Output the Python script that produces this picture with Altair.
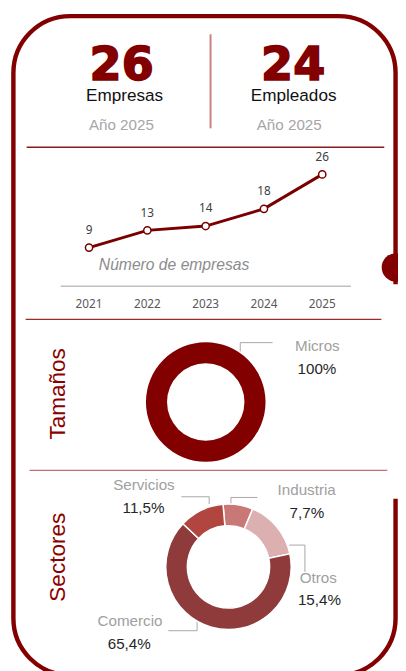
import math
import altair as alt
import pandas as pd

# ---------------- data ----------------
years = [2021, 2022, 2023, 2024, 2025]
empresas = [9, 13, 14, 18, 26]

kpi_values = ["26", "24"]
kpi_labels = ["Empresas", "Empleados"]
kpi_sub = ["Año 2025", "Año 2025"]

tam_cats = ["Micros"]
tam_counts = [26]

sec_cats = ["Industria", "Otros", "Comercio", "Servicios"]
sec_counts = [2, 4, 17, 3]

section_titles = ["Tamaños", "Sectores"]
line_caption = "Número de empresas"

# ---------------- style / layout ----------------
DARK = "#820000"
NARROW = "Liberation Sans Narrow, Liberation Sans, Arial"
SANS = "Liberation Sans, Arial"
W, H = 398, 663


def pct(c, total):
    v = c / total * 100
    if abs(v - round(v)) < 1e-9:
        return f"{int(round(v))}%"
    return f"{v:.1f}".replace(".", ",") + "%"


one = pd.DataFrame({"a": [0]})

# frame
frame = alt.Chart(one).mark_rect(
    fill=None, stroke=DARK, strokeWidth=4.5, cornerRadius=58
).encode(x=alt.value(5.5), x2=alt.value(395.5), y=alt.value(1.5), y2=alt.value(674))

cover = alt.Chart(one).mark_rect(fill="white").encode(
    x=alt.value(386), x2=alt.value(398), y=alt.value(275), y2=alt.value(494)
)

knob = alt.Chart(one).mark_circle(color=DARK, opacity=1, size=855).encode(
    x=alt.value(396), y=alt.value(258)
)

# separators & leader lines
rules_df = pd.DataFrame(
    [
        # x, x2, y, y2, color, width
        (19, 384, 135.3, 135.3, "#8b1a1a", 1.3),
        (18, 381, 311, 311, "#9b2a2a", 1.2),
        (22, 387, 465, 465, "#c27070", 1.2),
        (206.7, 206.7, 20, 116, "#c98080", 2),
        (237, 237, 343.7, 334.7, "#a6a6a6", 1),
        (237, 270, 334.7, 334.7, "#a6a6a6", 1),
        (205.3, 205.3, 492, 499.5, "#a6a6a6", 1),
        (177, 205.3, 492, 492, "#a6a6a6", 1),
        (227.5, 227.5, 492.7, 499, "#a6a6a6", 1),
        (227.5, 254.5, 492.7, 492.7, "#a6a6a6", 1),
        (287, 303, 541.3, 541.3, "#a6a6a6", 1),
        (303, 303, 541.3, 568.7, "#a6a6a6", 1),
        (193, 193, 618.7, 628.7, "#a6a6a6", 1),
        (163.7, 193, 628.7, 628.7, "#a6a6a6", 1),
    ],
    columns=["x", "x2", "y", "y2", "c", "w"],
)
rules = alt.Chart(rules_df).mark_rule().encode(
    x=alt.X("x:Q", scale=None, axis=None),
    x2="x2:Q",
    y=alt.Y("y:Q", scale=None, axis=None),
    y2="y2:Q",
    color=alt.Color("c:N", scale=None),
    strokeWidth=alt.StrokeWidth("w:Q", scale=None),
)

# ---------------- line chart ----------------
line_df = pd.DataFrame({"year": years, "n": empresas})
line_df["year_lbl"] = line_df["year"].astype(str)
xs = alt.X("year:Q", scale=alt.Scale(domain=[2021, 2025], range=[82.7, 320.7], nice=False, zero=False), axis=None)
ys = alt.Y("n:Q", scale=alt.Scale(domain=[0, 26], range=[277.2, 163.0], nice=False), axis=None)
lbase = alt.Chart(line_df)
axis_rule = alt.Chart(pd.DataFrame({"n": [0]})).mark_rule(color="#c0c0c0", strokeWidth=1.5).encode(
    x=alt.value(53.7), x2=alt.value(350), y=ys
)
lline = lbase.mark_line(color="#7a0000", strokeWidth=3).encode(x=xs, y=ys)
lpts = lbase.mark_point(
    filled=True, fill="white", stroke="#7a0000", strokeWidth=1.5, size=55, opacity=1
).encode(x=xs, y=ys)
lvals = lbase.mark_text(font="Noto Sans", fontSize=12, color="#404040", dy=-18, baseline="middle").encode(
    x=xs, y=ys, text="n:Q"
)
lyears = lbase.mark_text(font="Noto Sans", fontSize=12, color="#595959", baseline="middle").encode(
    x=xs, y=alt.value(295), text="year_lbl:N"
)
line_group = alt.layer(axis_rule, lline, lpts, lvals, lyears)

# ---------------- donuts ----------------
tam_df = pd.DataFrame({"cat": tam_cats, "n": tam_counts, "c": [DARK]})
tam = alt.Chart(tam_df).mark_arc(radius=61, radius2=39.5).encode(
    theta=alt.Theta("n:Q", stack=True),
    color=alt.Color("c:N", scale=None),
    x=alt.value(201.8),
    y=alt.value(395.3),
)

start = -5 * math.pi / 180
sec_df = pd.DataFrame(
    {
        "cat": sec_cats,
        "n": sec_counts,
        "ord": list(range(len(sec_cats))),
        "c": ["#c97878", "#dcb0b0", "#8f3b3b", "#b0463f"],
    }
)
sec = alt.Chart(sec_df).mark_arc(radius=64, radius2=42, stroke="white", strokeWidth=1.5).encode(
    theta=alt.Theta("n:Q", stack=True, scale=alt.Scale(range=[start, start + 2 * math.pi])),
    order=alt.Order("ord:Q"),
    color=alt.Color("c:N", scale=None),
    x=alt.value(225),
    y=alt.value(563.5),
)

# ---------------- texts ----------------
tam_total = sum(tam_counts)
sec_total = sum(sec_counts)
sec_map = dict(zip(sec_cats, sec_counts))

big = alt.Chart(pd.DataFrame({"t": kpi_values, "x": [116, 291]})).mark_text(
    font="DejaVu Sans", fontWeight="bold", fontSize=47, color=DARK, stroke=DARK, strokeWidth=1.6,
    baseline="alphabetic"
).encode(x=alt.X("x:Q", scale=None, axis=None), y=alt.value(67), text="t:N")

kpi = alt.Chart(pd.DataFrame({"t": kpi_labels, "x": [119, 291.5]})).mark_text(
    font=SANS, fontSize=17.5, color="#111111", baseline="alphabetic"
).encode(x=alt.X("x:Q", scale=None, axis=None), y=alt.value(88), text="t:N")

sub = alt.Chart(pd.DataFrame({"t": kpi_sub, "x": [115.7, 287]})).mark_text(
    font=NARROW, fontSize=15.5, color="#a6a6a6", baseline="alphabetic"
).encode(x=alt.X("x:Q", scale=None, axis=None), y=alt.value(117.7), text="t:N")

caption = alt.Chart(pd.DataFrame({"t": [line_caption]})).mark_text(
    font=NARROW, fontSize=16, fontStyle="italic", color="#8c8c8c", baseline="middle"
).encode(x=alt.value(169.5), y=alt.value(256), text="t:N")

titles = alt.Chart(pd.DataFrame({"t": section_titles, "y": [387, 553.7]})).mark_text(
    font=NARROW, fontSize=23, color="#8b0000", angle=270, baseline="alphabetic", align="center"
).encode(x=alt.value(57.7), y=alt.Y("y:Q", scale=None, axis=None), text="t:N")

cat_df = pd.DataFrame(
    {
        "t": ["Micros", "Servicios", "Industria", "Otros", "Comercio"],
        "x": [315.7, 138.7, 304.8, 316.7, 124.5],
        "y": [338.7, 480.3, 485.3, 574.7, 618.7],
    }
)
cats = alt.Chart(cat_df).mark_text(font=NARROW, fontSize=15.5, color="#a0a0a0", baseline="middle").encode(
    x=alt.X("x:Q", scale=None, axis=None), y=alt.Y("y:Q", scale=None, axis=None), text="t:N"
)

pct_df = pd.DataFrame(
    {
        "t": [
            pct(tam_counts[0], tam_total),
            pct(sec_map["Servicios"], sec_total),
            pct(sec_map["Industria"], sec_total),
            pct(sec_map["Otros"], sec_total),
            pct(sec_map["Comercio"], sec_total),
        ],
        "x": [315.3, 138.3, 305, 317.8, 123.7],
        "y": [361.3, 503.7, 508.7, 597, 642],
    }
)
pcts = alt.Chart(pct_df).mark_text(font=NARROW, fontSize=15.5, color="#262626", baseline="middle").encode(
    x=alt.X("x:Q", scale=None, axis=None), y=alt.Y("y:Q", scale=None, axis=None), text="t:N"
)

chart = (
    alt.layer(frame, cover, knob, rules, line_group, tam, sec, big, kpi, sub, caption, titles, cats, pcts)
    .resolve_scale(theta="independent")
    .properties(width=W, height=H, padding=0, autosize=alt.AutoSizeParams(type="none"), background="white")
    .configure_view(stroke=None)
)

chart.save("out.html", embed_options={"renderer": "svg", "actions": False})
